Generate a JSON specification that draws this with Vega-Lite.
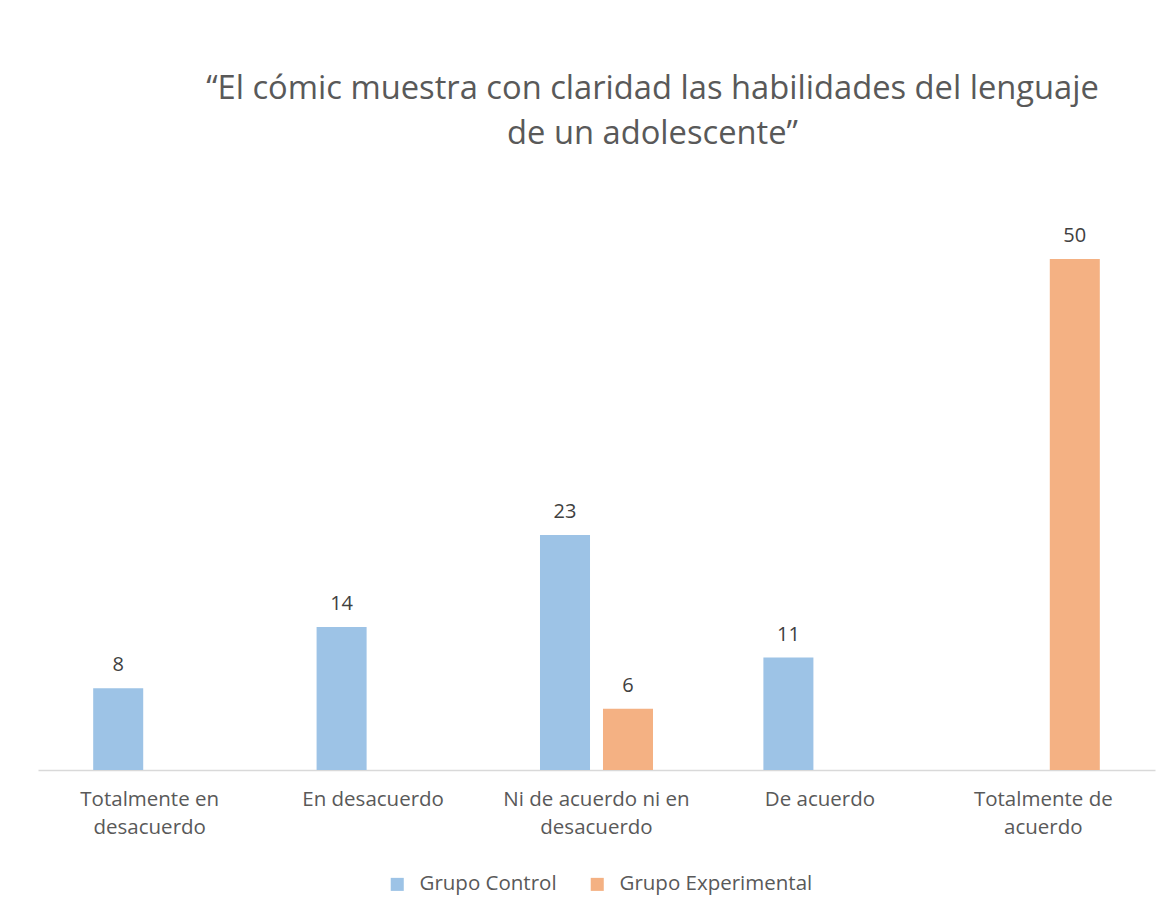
{
  "$schema": "https://vega.github.io/schema/vega-lite/v6.json",
  "width": 1117,
  "height": 511,
  "autosize": {"type": "none"},
  "padding": {"left": 38, "top": 259, "right": 16, "bottom": 145},
  "background": "white",
  "title": {
    "text": ["“El cómic muestra con claridad las habilidades del lenguaje", "de un adolescente”"],
    "anchor": "middle",
    "dx": 56,
    "offset": 75,
    "font": "Open Sans",
    "fontSize": 32.7,
    "fontWeight": "normal",
    "lineHeight": 45,
    "color": "#595959"
  },
  "data": {
    "values": [
      {"categoria": "Totalmente en desacuerdo", "grupo": "Grupo Control", "valor": 8},
      {"categoria": "En desacuerdo", "grupo": "Grupo Control", "valor": 14},
      {"categoria": "Ni de acuerdo ni  en desacuerdo", "grupo": "Grupo Control", "valor": 23},
      {"categoria": "Ni de acuerdo ni  en desacuerdo", "grupo": "Grupo Experimental", "valor": 6},
      {"categoria": "De acuerdo", "grupo": "Grupo Control", "valor": 11},
      {"categoria": "Totalmente de acuerdo", "grupo": "Grupo Experimental", "valor": 50}
    ]
  },
  "encoding": {
    "x": {
      "field": "categoria",
      "type": "nominal",
      "sort": ["Totalmente en desacuerdo", "En desacuerdo", "Ni de acuerdo ni  en desacuerdo", "De acuerdo", "Totalmente de acuerdo"],
      "scale": {"paddingInner": 0, "paddingOuter": 0},
      "axis": {
        "title": null,
        "labelAngle": 0,
        "ticks": false,
        "domainColor": "#D9D9D9",
        "domainWidth": 1.5,
        "labelFont": "Open Sans",
        "labelFontSize": 20.5,
        "labelColor": "#595959",
        "labelPadding": 19,
        "labelLineHeight": 28,
        "labelBaseline": "top",
        "labelLimit": 400,
        "labelExpr": "datum.label == 'Totalmente en desacuerdo' ? ['Totalmente en', 'desacuerdo'] : datum.label == 'Ni de acuerdo ni  en desacuerdo' ? ['Ni de acuerdo ni  en', 'desacuerdo'] : datum.label == 'Totalmente de acuerdo' ? ['Totalmente de', 'acuerdo'] : datum.label"
      }
    },
    "xOffset": {
      "field": "grupo",
      "type": "nominal",
      "scale": {"domain": ["Grupo Control", "Grupo Experimental"], "paddingInner": 0.206, "paddingOuter": 0.876}
    },
    "y": {
      "field": "valor",
      "type": "quantitative",
      "scale": {"domain": [0, 50], "nice": false},
      "axis": null
    }
  },
  "layer": [
    {
      "mark": {"type": "bar"},
      "encoding": {
        "color": {
          "field": "grupo",
          "type": "nominal",
          "scale": {"domain": ["Grupo Control", "Grupo Experimental"], "range": ["#9DC3E6", "#F4B183"]},
          "legend": {
            "title": null,
            "orient": "none",
            "legendX": 349,
            "legendY": 615,
            "direction": "horizontal",
            "symbolType": "square",
            "symbolSize": 170,
            "symbolStrokeWidth": 0,
            "labelOffset": 12,
            "labelLimit": 400,
            "labelFont": "Open Sans",
            "labelFontSize": 20.5,
            "labelColor": "#595959",
            "columnPadding": 30
          }
        }
      }
    },
    {
      "mark": {"type": "text", "baseline": "bottom", "dy": -13, "font": "Open Sans", "fontSize": 20, "color": "#404040"},
      "encoding": {
        "text": {"field": "valor", "type": "quantitative"}
      }
    }
  ],
  "config": {
    "view": {"stroke": null}
  }
}
